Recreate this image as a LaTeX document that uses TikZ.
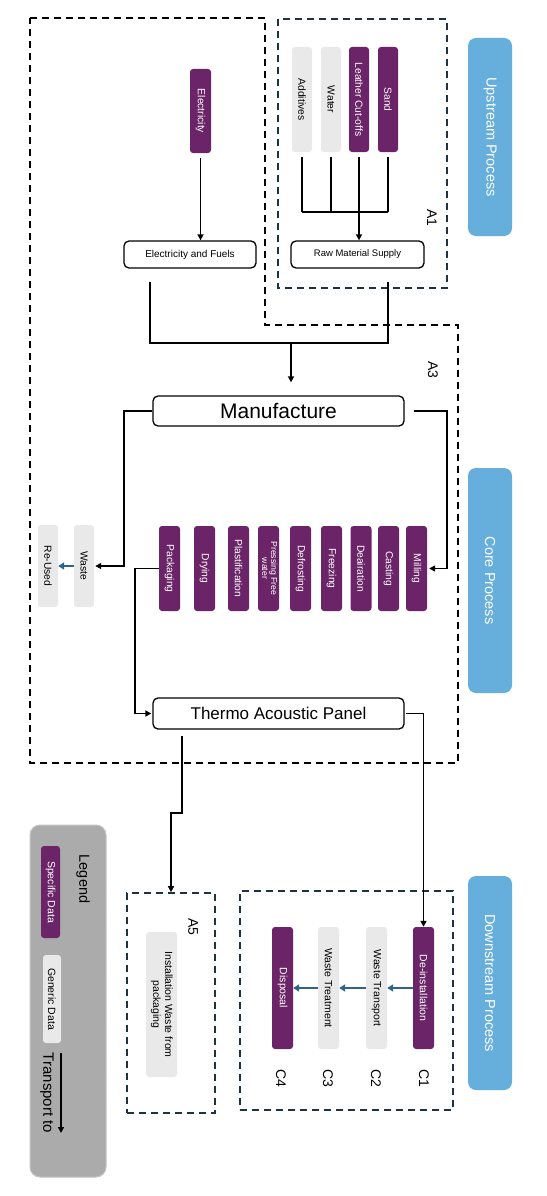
\documentclass[tikz,border=0pt]{standalone}
\usepackage{fontspec}
\setmainfont{Liberation Sans}
\usetikzlibrary{arrows.meta}
\definecolor{purp}{HTML}{6B2468}
\definecolor{genc}{HTML}{E9E9E9}
\definecolor{barblue}{HTML}{66AEDC}
\definecolor{navy}{HTML}{1E3342}
\definecolor{tealarrow}{HTML}{2E6488}
\definecolor{leggray}{HTML}{ABABAB}
\newcommand{\vtext}[1]{\rotatebox{-90}{#1}}
\newcommand{\vtextt}[1]{\rotatebox{-90}{\begin{tabular}{@{}c@{}}#1\end{tabular}}}
\tikzset{
  box/.style={inner sep=0pt, rounded corners=3pt, draw=none},
  spec/.style={box, fill=purp, text=white, font=\fontsize{10.3}{11}\selectfont},
  genr/.style={box, fill=genc, text=black, font=\fontsize{10.3}{11}\selectfont},
  proc/.style={draw, line width=1.3pt, rounded corners=5pt, inner sep=0pt, fill=white},
  sbar/.style={fill=barblue, rounded corners=8pt, text=white, font=\fontsize{14.5}{16}\selectfont, minimum width=44pt, inner sep=0pt},
  outline/.style={line width=1.7pt, dash pattern=on 7pt off 5pt},
  lbl/.style={font=\fontsize{14}{16}\selectfont, inner sep=0pt},
  lin/.style={line width=1.5pt},
  conn/.style={line width=1.5pt, -{Triangle[length=6pt,width=6pt]}},
  bluearrow/.style={line width=1.8pt, draw=tealarrow, -{Triangle[length=6pt,width=7pt]}}
}
\begin{document}
\begin{tikzpicture}[x=1pt,y=-1pt]
\useasboundingbox[fill=white] (0,0) rectangle (546,1196);

% dashed outlines
\draw[outline] (30,18) -- (265,18) -- (265,325) -- (458,325) -- (458,763) -- (30,763) -- cycle;
\draw[outline, navy] (278,19) rectangle (447,288);

% side bars
\node[sbar, minimum height=198pt] (up) at (490,137) {\vtext{Upstream Process}};
\node[sbar, minimum height=225pt] (core) at (490,580.5) {\vtext{Core Process}};
\node[sbar, minimum height=214pt] (down) at (490,983) {\vtext{Downstream Process}};

% upstream
\node[spec, minimum width=21pt, minimum height=84pt] (elec) at (200.5,111) {\vtext{Electricity}};
\node[proc, minimum width=132pt, minimum height=27pt, font=\fontsize{10}{12}\selectfont] (ef) at (190,254.5) {Electricity and Fuels};
\node[genr, minimum width=20pt, minimum height=105pt] (add) at (302,99.5) {\vtext{Additives}};
\node[genr, minimum width=20pt, minimum height=105pt] (water) at (331,99.5) {\vtext{Water}};
\node[spec, minimum width=20pt, minimum height=105pt] (leather) at (359,99.5) {\vtext{Leather Cut-offs}};
\node[spec, minimum width=20pt, minimum height=105pt] (sand) at (388,99.5) {\vtext{Sand}};
\node[proc, minimum width=133pt, minimum height=27pt, font=\fontsize{9.5}{12}\selectfont] (rms) at (357.5,254.5) {Raw Material Supply};
\node[lbl] (a1) at (432,218) {\vtext{A1}};

\coordinate (bus) at (345,212);
\draw[lin, shorten <=5pt] (add.south) -- (add.south |- bus);
\draw[lin, shorten <=5pt] (water.south) -- (water.south |- bus);
\draw[lin, shorten <=5pt] (sand.south) -- (sand.south |- bus);
\draw[lin] (add.south |- bus) -- (sand.south |- bus);
\draw[conn, shorten <=5pt] (leather.south) -- (leather.south |- rms.north);
\draw[conn, shorten <=5pt] (elec.south) -- (elec.south |- ef.north);

% merge to manufacture
\coordinate (efout) at (150,282);
\coordinate (rmsout) at (388,282);
\coordinate (m) at (291,343);
\draw[lin] (efout) |- (rmsout |- m) -- (rmsout);

\node[proc, minimum width=251pt, minimum height=30pt, font=\fontsize{21}{24}\selectfont] (man) at (278.5,411) {Manufacture};
\node[lbl] (a3) at (433,370) {\vtext{A3}};
\draw[conn, shorten <=-1pt, shorten >=13pt] (m) -- (m |- man.north);

% core steps
\node[spec, minimum width=21pt, minimum height=85pt] (pack) at (169.5,568.5) {\vtext{Packaging}};
\node[spec, minimum width=21pt, minimum height=85pt] (dry) at (204.5,568.5) {\vtext{Drying}};
\node[spec, minimum width=21pt, minimum height=85pt] (plast) at (238.5,568.5) {\vtext{Plastification}};
\node[spec, minimum width=21pt, minimum height=85pt, font=\fontsize{8.7}{9}\selectfont] (press) at (268.5,568.5) {\vtextt{Pressing Free\\water}};
\node[spec, minimum width=21pt, minimum height=85pt] (defr) at (300.5,568.5) {\vtext{Defrosting}};
\node[spec, minimum width=21pt, minimum height=85pt] (freez) at (331.5,568.5) {\vtext{Freezing}};
\node[spec, minimum width=21pt, minimum height=85pt] (deair) at (361,568.5) {\vtext{Deairation}};
\node[spec, minimum width=21pt, minimum height=85pt] (cast) at (388.5,568.5) {\vtext{Casting}};
\node[spec, minimum width=21pt, minimum height=85pt] (mill) at (416.5,568.5) {\vtext{Milling}};

\node[genr, minimum width=20pt, minimum height=82pt] (waste) at (84,566) {\vtext{Waste}};
\node[genr, minimum width=20pt, minimum height=82pt] (reused) at (48,566) {\vtext{Re-Used}};
\draw[bluearrow] (waste.west) -- (reused.east);

\coordinate (lft) at (124,411);
\draw[conn, shorten >=1pt] (man.west) -- (lft) |- (waste.east);
\coordinate (rgt) at (447,411);
\draw[conn, shorten <=9pt, shorten >=2pt] (man.east) -- (rgt) |- (mill.east);

\node[proc, minimum width=251pt, minimum height=31pt, font=\fontsize{17}{20}\selectfont] (thermo) at (278.5,713.5) {Thermo Acoustic Panel};
\coordinate (pk) at (135,568.5);
\draw[conn, shorten >=1pt] (pack.west) -- (pk) |- (thermo.west);

% downstream
\node[outline, draw=navy, minimum width=213pt, minimum height=219pt] (dbox) at (346.5,1000.5) {};
\node[spec, minimum width=21pt, minimum height=122pt, font=\fontsize{10.5}{12}\selectfont] (deinst) at (423.5,988) {\vtext{De-installation}};
\node[genr, minimum width=21pt, minimum height=122pt, font=\fontsize{10.5}{12}\selectfont] (wtrans) at (376.5,988) {\vtext{Waste Transport}};
\node[genr, minimum width=21pt, minimum height=122pt, font=\fontsize{10.5}{12}\selectfont] (wtreat) at (328.5,988) {\vtext{Waste Treatment}};
\node[spec, minimum width=21pt, minimum height=122pt, font=\fontsize{10.5}{12}\selectfont] (disp) at (282.5,988) {\vtext{Disposal}};
\draw[bluearrow] (deinst.west) -- (wtrans.east);
\draw[bluearrow] (wtrans.west) -- (wtreat.east);
\draw[bluearrow] (wtreat.west) -- (disp.east);
\node[lbl] (c1) at (424,1078) {\vtext{C1}};
\node[lbl] (c2) at (376,1078) {\vtext{C2}};
\node[lbl] (c3) at (328,1078) {\vtext{C3}};
\node[lbl] (c4) at (281,1078) {\vtext{C4}};

\draw[conn, shorten <=1pt] (thermo.east) -- (deinst.north |- thermo.east) -- (deinst.north);

% A5
\node[outline, draw=navy, minimum width=88pt, minimum height=220pt] (a5box) at (171,1003) {};
\node[genr, minimum width=31pt, minimum height=145pt, font=\fontsize{10.5}{12}\selectfont] (inst) at (161.5,1004.5) {\vtextt{Installation Waste from\\packaging}};
\node[lbl] (a5) at (193,927) {\vtext{A5}};
\coordinate (tb1) at (182,813);
\coordinate (tb2) at (171,813);
\draw[conn, shorten <=6pt] (thermo.south -| tb1) -- (tb1) -- (tb2) -- (a5box.north);

% legend
\node[fill=leggray, draw=leggray!70!white, line width=1pt, rounded corners=10pt, minimum width=76pt, minimum height=352pt, inner sep=0pt] (legend) at (68,1001) {};
\node[lbl, font=\fontsize{14.5}{16}\selectfont] (legt) at (83,879) {\vtext{Legend}};
\node[spec, minimum width=19pt, minimum height=92pt, font=\fontsize{10.5}{12}\selectfont] (lspec) at (50.5,892) {\vtext{Specific Data}};
\node[genr, minimum width=18pt, minimum height=88pt, font=\fontsize{10.5}{12}\selectfont] (lgen) at (52,999) {\vtext{Generic Data}};
\node[lbl, font=\fontsize{15}{16}\selectfont] (ltr) at (47,1093) {\vtext{Transport to}};
\coordinate (la) at (61,1053);
\coordinate (lb) at (61,1133);
\draw[conn] (la) -- (lb);
\end{tikzpicture}
\end{document}
